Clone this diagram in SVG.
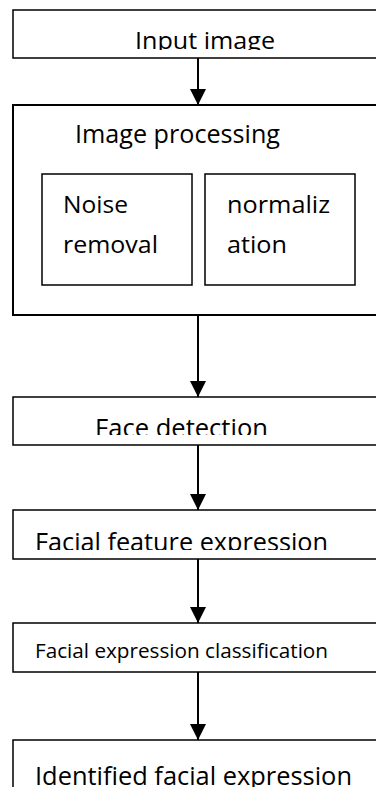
<svg xmlns="http://www.w3.org/2000/svg" width="376" height="787" viewBox="0 0 376 787">
<style>
.box{fill:#fff;stroke:#000;stroke-width:1.5}
.big{fill:#fff;stroke:#000;stroke-width:2}
.t{font-family:"Open Sans","Noto Sans",sans-serif;fill:#000}
.c{stroke:#000;stroke-width:2;fill:none}
</style>
<defs>
<marker id="ah" markerUnits="userSpaceOnUse" markerWidth="16" markerHeight="18" refX="16" refY="8" orient="auto">
<path d="M0,0 L16,8 L0,16 Z" fill="#000"/>
</marker>
<clipPath id="c1"><rect x="0" y="0" width="376" height="50"/></clipPath>
<clipPath id="c3"><rect x="0" y="0" width="376" height="435"/></clipPath>
<clipPath id="c4"><rect x="0" y="0" width="376" height="550"/></clipPath>
</defs>
<rect width="376" height="787" fill="#fff"/>
<g id="input">
<rect class="box" x="13" y="10" width="380" height="48"/>
<text class="t" x="135" y="49" font-size="23" textLength="140" lengthAdjust="spacingAndGlyphs" clip-path="url(#c1)">Input image</text>
</g>
<g id="processing">
<rect class="big" x="13" y="105" width="380" height="210"/>
<text class="t" x="75" y="143" font-size="25" textLength="205" lengthAdjust="spacingAndGlyphs">Image processing</text>
</g>
<g id="noise">
<rect class="box" x="42" y="174" width="150" height="111"/>
<text class="t" x="63" y="213" font-size="23" textLength="65" lengthAdjust="spacingAndGlyphs">Noise</text>
<text class="t" x="63" y="253" font-size="23" textLength="95" lengthAdjust="spacingAndGlyphs">removal</text>
</g>
<g id="normalization">
<rect class="box" x="205" y="174" width="150" height="111"/>
<text class="t" x="227" y="213" font-size="23" textLength="103" lengthAdjust="spacingAndGlyphs">normaliz</text>
<text class="t" x="227" y="253" font-size="23" textLength="60" lengthAdjust="spacingAndGlyphs">ation</text>
</g>
<g id="face">
<rect class="box" x="13" y="397" width="380" height="48"/>
<text class="t" x="95" y="437" font-size="25" textLength="173" lengthAdjust="spacingAndGlyphs" clip-path="url(#c3)">Face detection</text>
</g>
<g id="feature">
<rect class="box" x="13" y="510" width="380" height="49"/>
<text class="t" x="35" y="551" font-size="25" textLength="293" lengthAdjust="spacingAndGlyphs" clip-path="url(#c4)">Facial feature expression</text>
</g>
<g id="classification">
<rect class="box" x="13" y="623" width="380" height="49"/>
<text class="t" x="35" y="658" font-size="20" textLength="293" lengthAdjust="spacingAndGlyphs">Facial expression classification</text>
</g>
<g id="identified">
<rect class="box" x="13" y="740" width="380" height="60"/>
<text class="t" x="35" y="785" font-size="26" textLength="317" lengthAdjust="spacingAndGlyphs">Identified facial expression</text>
</g>
<g id="connectors">
<line class="c" x1="198" y1="58" x2="198" y2="105" marker-end="url(#ah)"/>
<line class="c" x1="198" y1="315" x2="198" y2="397" marker-end="url(#ah)"/>
<line class="c" x1="198" y1="445" x2="198" y2="510" marker-end="url(#ah)"/>
<line class="c" x1="198" y1="559" x2="198" y2="623" marker-end="url(#ah)"/>
<line class="c" x1="198" y1="672" x2="198" y2="740" marker-end="url(#ah)"/>
</g>
</svg>
